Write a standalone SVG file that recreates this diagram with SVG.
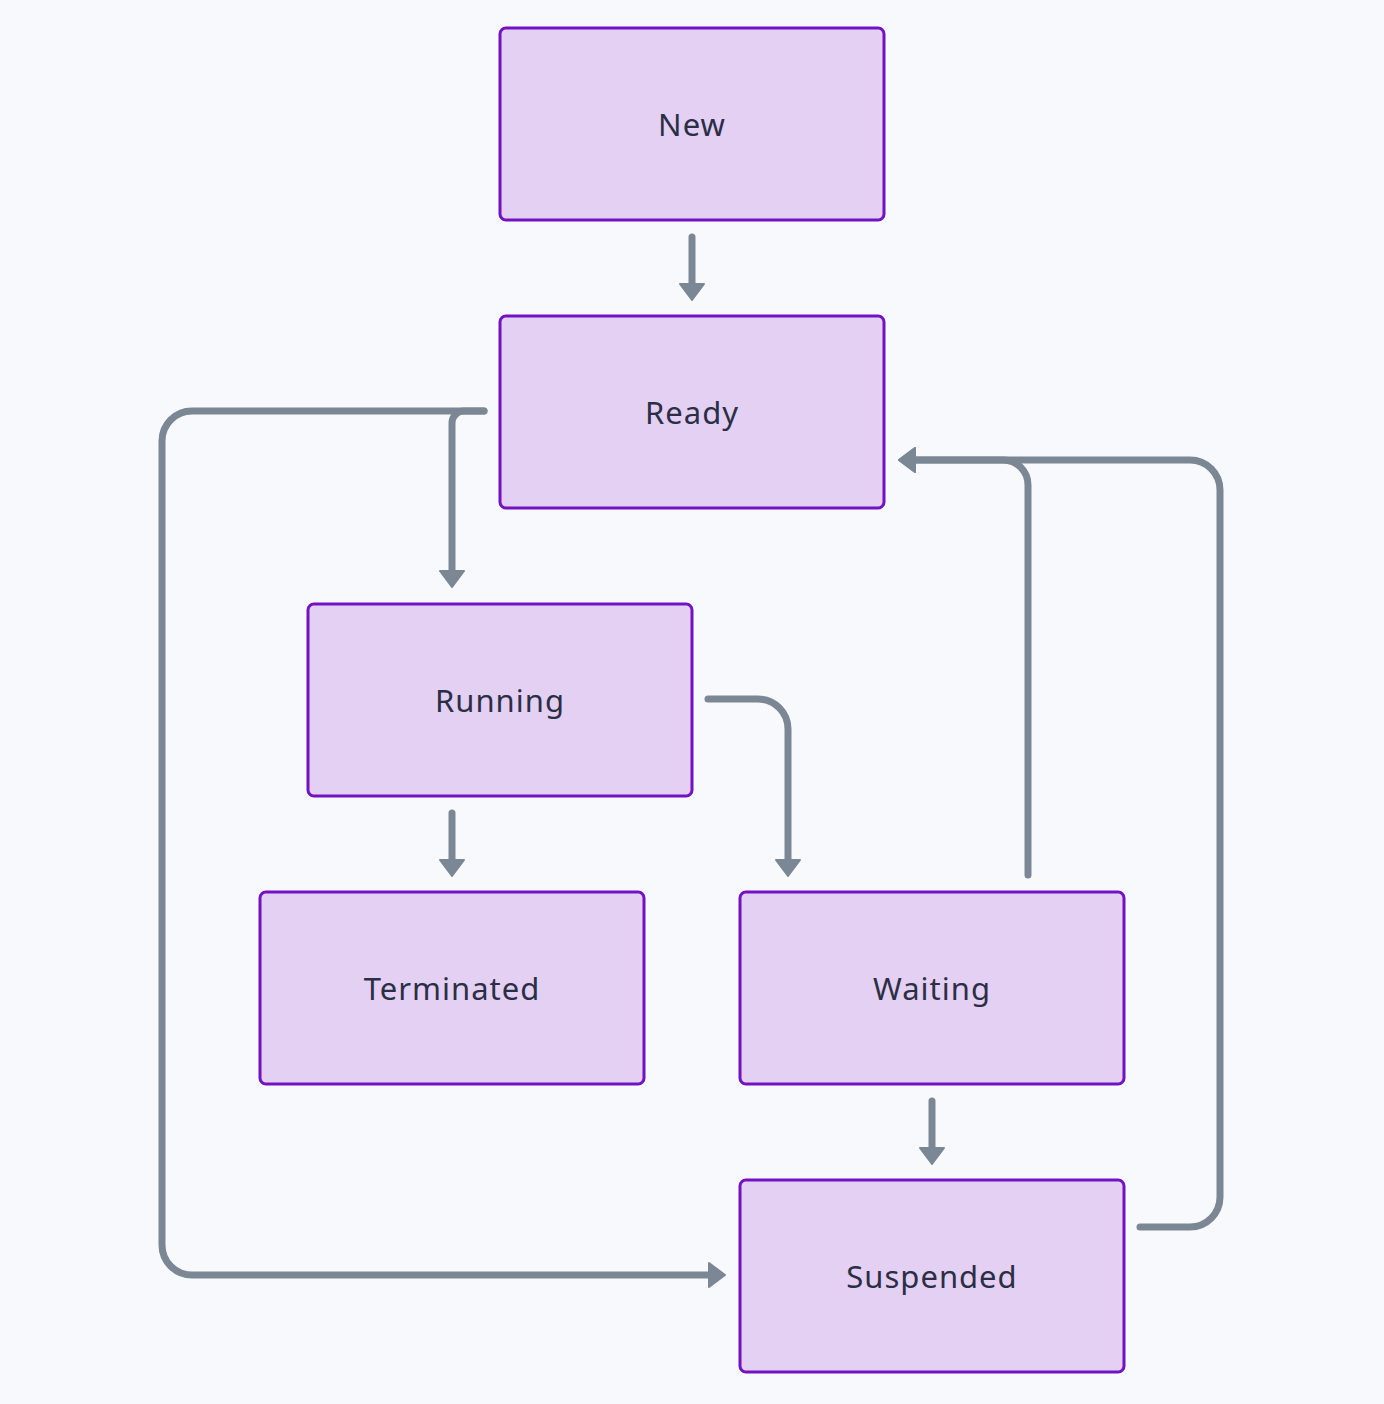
<svg xmlns="http://www.w3.org/2000/svg" width="1384" height="1404" viewBox="0 0 1384 1404">
<style>
.node rect{fill:#e3d0f3;stroke:#7212c4;stroke-width:3}
.node text{font-family:"Noto Sans","DejaVu Sans",sans-serif;font-size:31px;fill:#2b2f45;text-anchor:middle;dominant-baseline:central;letter-spacing:1px}
.edge{fill:none;stroke:#7b8794;stroke-width:7;stroke-linecap:round;stroke-linejoin:round}
</style>
<defs>
<marker id="ah" viewBox="0 0 18 26" refX="8" refY="13" markerWidth="18" markerHeight="26" markerUnits="userSpaceOnUse" orient="auto">
<path d="M1,1 L17,13 L1,25 z" fill="#7b8794" stroke="#7b8794" stroke-width="2" stroke-linejoin="round"/>
</marker>
</defs>
<rect width="1384" height="1404" fill="#f7f9fc"/>
<g id="connectors">
<path class="edge" d="M692,237 V291" marker-end="url(#ah)"/>
<path class="edge" d="M484,411 H192 A30,30 0 0 0 162,441 V1245 A30,30 0 0 0 192,1275 H716" marker-end="url(#ah)"/>
<path class="edge" d="M484,411 H464 A12,12 0 0 0 452,423 V578" marker-end="url(#ah)"/>
<path class="edge" d="M708,699 H758 A30,30 0 0 1 788,729 V867" marker-end="url(#ah)"/>
<path class="edge" d="M452,813 V867" marker-end="url(#ah)"/>
<path class="edge" d="M1028,875 V485 A25,25 0 0 0 1003,460 H908" marker-end="url(#ah)"/>
<path class="edge" d="M1140,1227 H1190 A30,30 0 0 0 1220,1197 V490 A30,30 0 0 0 1190,460 H908" marker-end="url(#ah)"/>
<path class="edge" d="M932,1101 V1155" marker-end="url(#ah)"/>
</g>
<g id="new" class="node"><rect x="500" y="28" width="384" height="192" rx="6"/><text x="692" y="124">New</text></g>
<g id="ready" class="node"><rect x="500" y="316" width="384" height="192" rx="6"/><text x="692" y="412">Ready</text></g>
<g id="running" class="node"><rect x="308" y="604" width="384" height="192" rx="6"/><text x="500" y="700">Running</text></g>
<g id="terminated" class="node"><rect x="260" y="892" width="384" height="192" rx="6"/><text x="452" y="988">Terminated</text></g>
<g id="waiting" class="node"><rect x="740" y="892" width="384" height="192" rx="6"/><text x="932" y="988">Waiting</text></g>
<g id="suspended" class="node"><rect x="740" y="1180" width="384" height="192" rx="6"/><text x="932" y="1276">Suspended</text></g>
</svg>
